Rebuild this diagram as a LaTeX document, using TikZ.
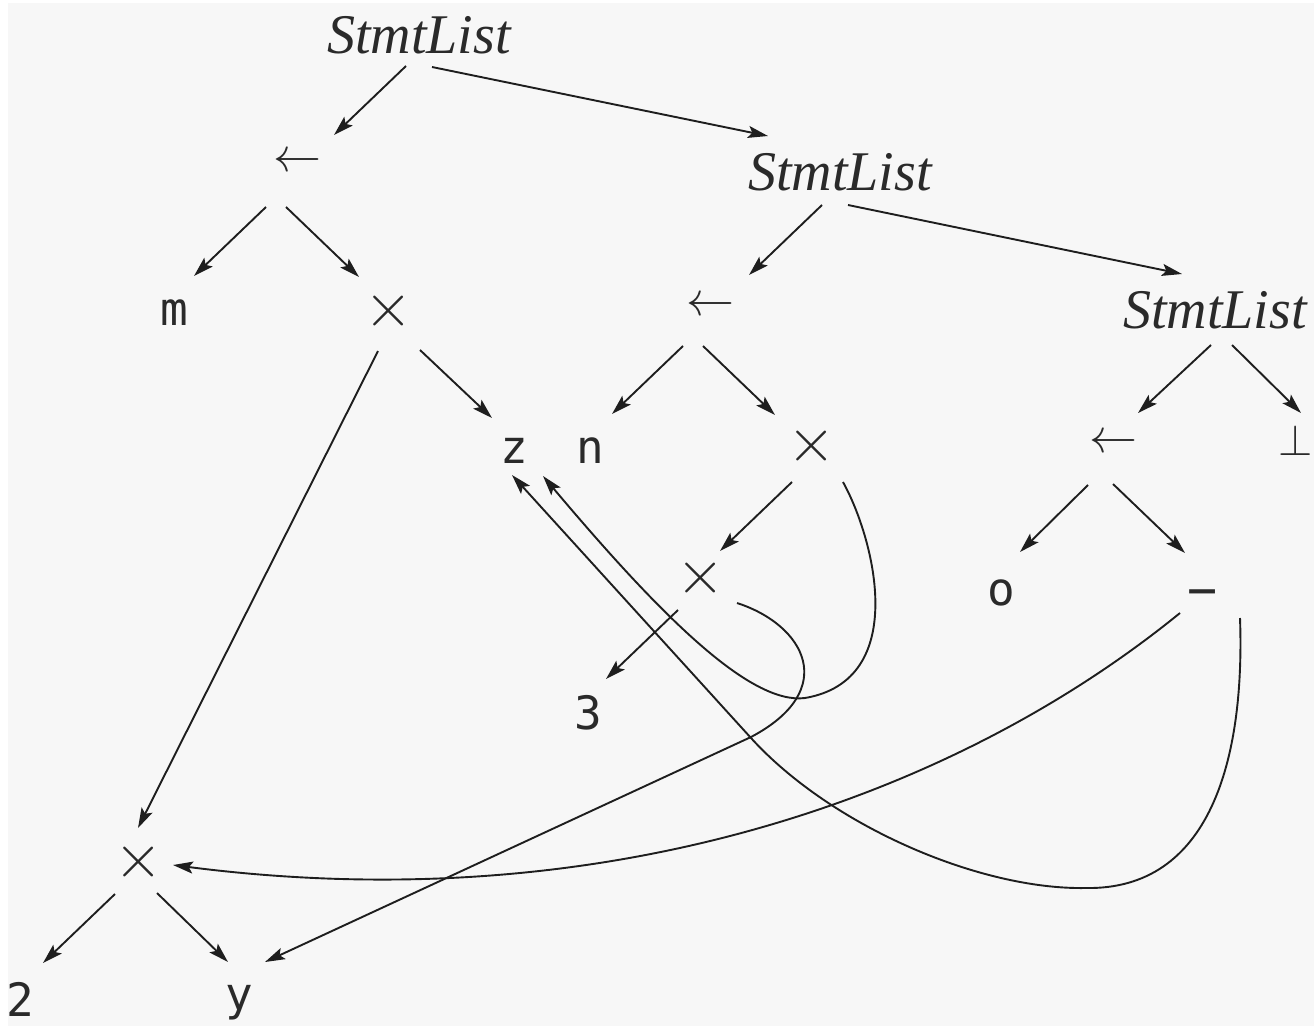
\documentclass[tikz,border=0pt]{standalone}
\usepackage{graphicx}
\usepackage{fontspec}
\newfontfamily\slf{Liberation Serif}
\newfontfamily\monof{DejaVu Sans Mono}
\usetikzlibrary{arrows.meta,calc}
\definecolor{bgc}{HTML}{F7F7F7}
\definecolor{inkc}{HTML}{2A2A2A}
\definecolor{linec}{HTML}{1E1E1E}
\newcommand{\bigsym}[2]{\scalebox{#1}{$#2$}}
\tikzset{
  base/.style={inner sep=0pt, outer sep=0pt, text=inkc},
  sl/.style={base, font=\slf\itshape\fontsize{56}{60}\selectfont, text height=36pt, text depth=0pt},
  leaf/.style={base, font=\monof\fontsize{46}{50}\selectfont, text height=25pt, text depth=0pt},
  dig/.style={base, font=\monof\fontsize{46}{50}\selectfont, text height=33.5pt, text depth=0pt},
  minusnode/.style={base, font=\monof\fontsize{50}{54}\selectfont, text height=30pt, text depth=0pt},
  symnode/.style={base, font=\fontsize{10}{12}\selectfont},
  arr/.style={draw=linec, line width=1.9pt, -{Stealth[length=20pt,width=12pt,inset=4pt]}}
}
\begin{document}
\begin{tikzpicture}[x=1pt,y=-1pt]
\useasboundingbox (0,0) rectangle (1314,1026);
\clip (0,0) rectangle (1314,1026);
\fill[white] (0,0) rectangle (1314,1026);
\fill[bgc] (8,3) rectangle (1314,1026);

% nodes
\node[sl] (SL1) at (419,35) {StmtList};
\node[symnode] (AS1) at (297,163) {\bigsym{4.8}{\leftarrow}};
\node[sl] (SL2) at (840,172) {StmtList};
\node[leaf] (m) at (174,313) {m};
\node[symnode] (X1) at (389,311) {\bigsym{6.2}{\times}};
\node[symnode] (AS2) at (710,307) {\bigsym{4.8}{\leftarrow}};
\node[sl] (SL3) at (1215,310) {StmtList};
\node[leaf] (z) at (514,451) {z};
\node[leaf] (n) at (590,451) {n};
\node[symnode] (X2) at (812,446) {\bigsym{6.2}{\times}};
\node[symnode] (AS3) at (1113,444) {\bigsym{4.8}{\leftarrow}};
\node[symnode] (bot) at (1296,440) {\bigsym{4.4}{\bot}};
\node[symnode] (X3) at (701,578) {\bigsym{6.2}{\times}};
\node[leaf] (o) at (1001,593) {o};
\node[minusnode] (minus) at (1203,592) {−};
\node[dig] (three) at (588,713) {3};
\node[symnode] (X4) at (139,862) {\bigsym{6.2}{\times}};
\node[dig] (two) at (20,1000) {2};
\node[leaf] (y) at (239,998) {y};

% tree edges
\draw[arr] ($(SL1)+(-13,31)$) -- ($(AS1)+(37,-28)$);
\draw[arr] ($(SL1)+(13,32)$) -- ($(SL2)+(-72,-36)$);
\draw[arr] ($(SL2)+(-18,33)$) -- ($(AS2)+(39,-32)$);
\draw[arr] ($(SL2)+(8,33)$) -- ($(SL3)+(-33,-36)$);
\draw[arr] ($(AS1)+(-31,44)$) -- ($(m)+(20,-37)$);
\draw[arr] ($(AS1)+(-11,44)$) -- ($(X1)+(-30,-34)$);
\draw[arr] ($(AS2)+(-27,39)$) -- ($(n)+(22,-37)$);
\draw[arr] ($(AS2)+(-7,39)$) -- ($(X2)+(-37,-31)$);
\draw[arr] ($(SL3)+(-4,35)$) -- ($(AS3)+(25,-31)$);
\draw[arr] ($(SL3)+(17,35)$) -- ($(bot)+(5,-27)$);
\draw[arr] ($(X1)+(31,39)$) -- ($(z)+(-22,-33)$);
\draw[arr] ($(X1)+(-11,40)$) -- ($(X4)+(-1,-34)$);
\draw[arr] ($(X2)+(-20,36)$) -- ($(X3)+(19,-27)$);
\draw[arr] ($(AS3)+(-25,41)$) -- ($(o)+(19,-41)$);
\draw[arr] ($(AS3)+(0,40)$) -- ($(minus)+(-18,-39)$);
\draw[arr] ($(X3)+(-23,32)$) -- ($(three)+(18,-34)$);
\draw[arr] ($(X4)+(-24,32)$) -- ($(two)+(23,-37)$);
\draw[arr] ($(X4)+(18,31)$) -- ($(y)+(-11,-36)$);

% shared-subtree curves
\draw[arr] ($(X2)+(31,36)$) .. controls (875,540) and (910,680) .. (805,698)
  .. controls (750,705) and (660,615) .. ($(z)+(29,25)$);
\draw[arr] ($(minus)+(37,26)$) .. controls (1245,760) and (1210,890) .. (1086,888)
  .. controls (980,890) and (831,826) .. (751,738) -- ($(z)+(-2,24)$);
\draw[arr] ($(X3)+(36,25)$) .. controls (805,625) and (840,690) .. (751,737)
  -- ($(y)+(26,-36)$);
\draw[arr] ($(minus)+(-23,21)$) .. controls (950,800) and (600,920) .. ($(X4)+(34,3)$);
\end{tikzpicture}
\end{document}
